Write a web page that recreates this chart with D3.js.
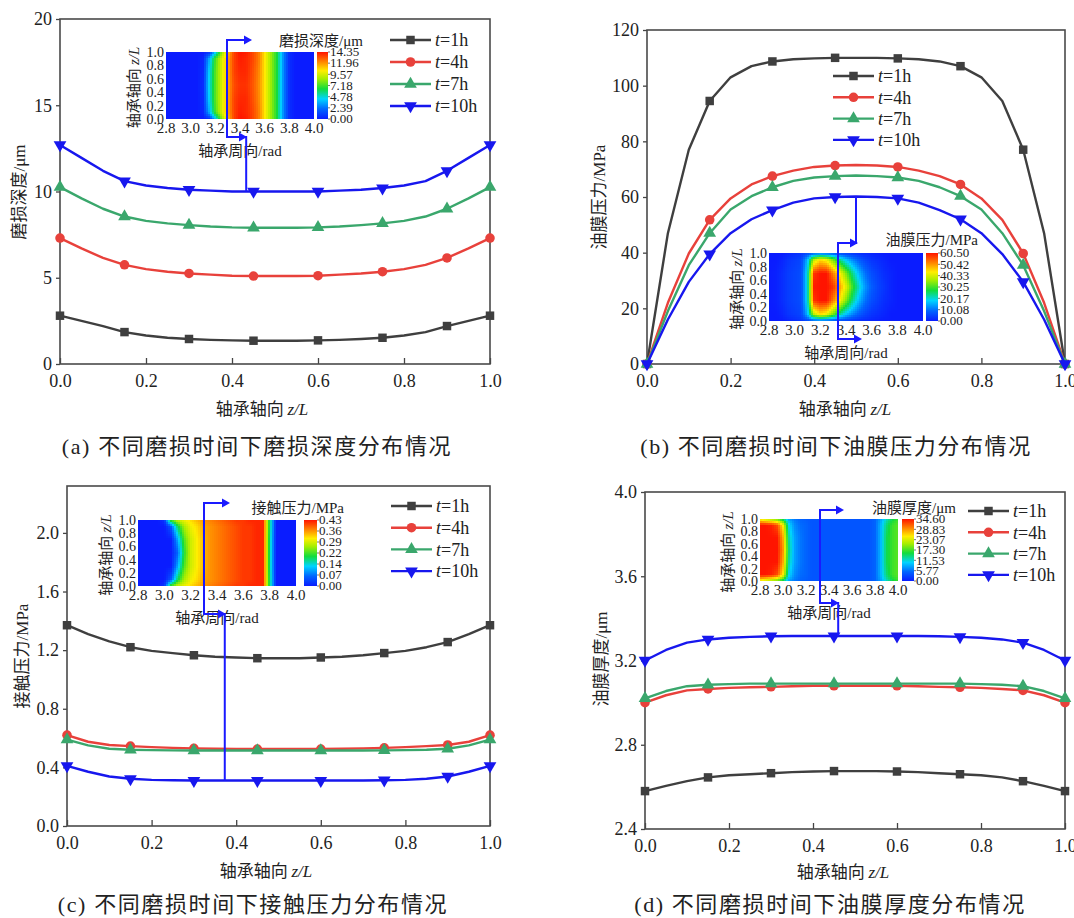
<!DOCTYPE html>
<html>
<head>
<meta charset="utf-8">
<script src="https://cdn.jsdelivr.net/npm/d3@7"></script>
<style>
body{margin:0;background:#fff;}
svg text{font-family:"Liberation Serif","Times New Roman",serif;fill:#222;}
</style>
</head>
<body>
<svg id="fig" width="1074" height="918"></svg>
<script>
//wear-time comparison of bearing: 4 panels, each with a contour inset

var cjkFont = '"Noto Sans CJK SC","Noto Sans",sans-serif';

//axial position z/L, markers on every 3rd point + last
var zL = [0,0.05,0.1,0.15,0.2,0.25,0.3,0.35,0.4,0.45,0.5,0.55,0.6,0.65,0.7,0.75,0.8,0.85,0.9,0.95,1.0];
var markerIdx = [0,3,6,9,12,15,18,20];
var xTickVals = [0,0.2,0.4,0.6,0.8,1.0];
var seriesLabels = ["1h","4h","7h","10h"];
var seriesColors = ["#3f3f3f","#e8413b","#3aa76c","#1717ee"];
var seriesSymbols = ["square","circle","triUp","triDown"];

//(a) wear depth, um
var wear1h  = [2.8,2.5,2.2,1.85,1.65,1.52,1.45,1.4,1.37,1.35,1.35,1.35,1.37,1.4,1.45,1.52,1.65,1.85,2.2,2.5,2.8];
var wear4h  = [7.3,6.7,6.15,5.75,5.5,5.35,5.25,5.18,5.12,5.1,5.1,5.1,5.12,5.18,5.25,5.35,5.5,5.75,6.15,6.7,7.3];
var wear7h  = [10.25,9.6,9.0,8.55,8.3,8.15,8.05,7.97,7.92,7.9,7.9,7.9,7.92,7.97,8.05,8.15,8.3,8.55,9.0,9.6,10.25];
var wear10h = [12.7,11.95,11.2,10.6,10.35,10.2,10.1,10.05,10.0,10.0,10.0,10.0,10.0,10.05,10.1,10.2,10.35,10.6,11.2,11.95,12.7];

//(b) oil film pressure, MPa
var press1h  = [0,47,77,94.5,103,107,108.7,109.5,109.8,110,110,110,109.8,109.5,108.7,107,103,94.5,77,47,0];
var press4h  = [0,22,39.7,51.8,59.5,64.5,67.5,69.5,70.8,71.3,71.5,71.3,70.8,69.5,67.5,64.5,59.5,51.8,39.7,22,0];
var press7h  = [0,19,35.5,47,55.5,60.3,63.5,65.8,67,67.5,67.7,67.5,67,65.8,63.5,60.3,55.5,47,35.5,19,0];
var press10h = [0,16,29.5,39.5,47,52,55.3,58,59.5,60,60.2,60,59.5,58,55.3,52,47,39.5,29.5,16,0];

//(c) contact pressure, MPa
var contact1h  = [1.37,1.31,1.26,1.22,1.195,1.18,1.165,1.155,1.15,1.145,1.145,1.145,1.15,1.155,1.165,1.18,1.195,1.22,1.255,1.31,1.37];
var contact4h  = [0.62,0.575,0.553,0.545,0.538,0.533,0.53,0.527,0.525,0.525,0.525,0.525,0.525,0.527,0.53,0.533,0.538,0.545,0.553,0.575,0.62];
var contact7h  = [0.59,0.55,0.527,0.52,0.518,0.516,0.515,0.515,0.515,0.515,0.515,0.515,0.515,0.515,0.515,0.516,0.518,0.52,0.527,0.55,0.59];
var contact10h = [0.41,0.37,0.338,0.322,0.315,0.312,0.31,0.31,0.31,0.31,0.31,0.31,0.31,0.31,0.31,0.312,0.315,0.322,0.338,0.37,0.41];

//(d) oil film thickness, um
var film1h  = [2.58,2.605,2.627,2.645,2.655,2.66,2.665,2.67,2.673,2.675,2.675,2.675,2.673,2.67,2.665,2.66,2.655,2.645,2.627,2.605,2.58];
var film4h  = [3.0,3.035,3.058,3.065,3.07,3.073,3.075,3.078,3.08,3.08,3.08,3.08,3.08,3.078,3.075,3.073,3.07,3.065,3.058,3.035,3.0];
var film7h  = [3.02,3.055,3.078,3.085,3.088,3.09,3.09,3.09,3.09,3.09,3.09,3.09,3.09,3.09,3.09,3.09,3.088,3.085,3.078,3.055,3.02];
var film10h = [3.2,3.25,3.285,3.3,3.308,3.312,3.315,3.316,3.316,3.316,3.316,3.316,3.316,3.316,3.315,3.312,3.308,3.3,3.285,3.25,3.2];

//inset contour grids: circumferential angle (rad) x axial rows
var insetTheta = [2.8,2.85,2.9,2.95,3.0,3.05,3.1,3.15,3.2,3.25,3.3,3.35,3.4,3.45,3.5,3.55,3.6,3.65,3.7,3.75,3.8,3.85,3.9,3.95,4.0];
var insetZ = [0,0.1,0.3,0.5,0.7,0.9,1.0];
var insetXTicks = [2.8,3.0,3.2,3.4,3.6,3.8,4.0];
var insetYTicks = [0,0.2,0.4,0.6,0.8,1.0];

var wearMapEdge   = [0,0,0,0,0,0,0,0.5,4,8,11,13.5,14.35,14.2,13.5,12.5,10.5,8.5,6.5,3,0.5,0,0,0,0];
var wearMapNear   = [0,0,0,0,0,0,0.3,3.5,7.2,9.5,11.5,13.5,14.2,14,13.5,12.5,10.5,8.5,6.5,3,0.5,0,0,0,0];
var wearMapMid    = [0,0,0,0,0,0,0.4,4.3,7.5,9.5,11.5,13.5,14,14,13.3,12.3,10.5,8.5,6.5,3,0.5,0,0,0,0];
var wearMapCenter = [0,0,0,0,0,0,0.5,4.5,7.5,9.5,11.5,13.3,13.8,13.8,13.2,12.2,10.5,8.5,6.5,3,0.5,0,0,0,0];

var pressMapEdge   = [0,0,0,1,2,3,5,7,8,7,6,5,4,3,2,1.5,1,0.5,0,0,0,0,0,0,0];
var pressMapNear   = [0,0,1,3,4,5,16,38,45,42,33,24,17,12,8,5,3,2,1,0,0,0,0,0,0];
var pressMapMid    = [0,0.5,2,4,5,6,20,58,60.5,60.5,52,44,34,24,16,10,6,4,2,1,0,0,0,0,0];
var pressMapCenter = [0,0.5,2,4,5,6,20,60,60.5,60.5,58,50,41,30,21,13,8,5,3,1,0,0,0,0,0];

var contactMapEdge   = [0,0,0,0,0.02,0.22,0.28,0.3,0.32,0.34,0.36,0.37,0.38,0.39,0.4,0.41,0.41,0.42,0.42,0.42,0.18,0,0,0,0];
var contactMapNear   = [0,0,0,0,0,0.05,0.18,0.26,0.3,0.32,0.35,0.36,0.37,0.38,0.39,0.4,0.41,0.41,0.42,0.42,0.18,0,0,0,0];
var contactMapMid    = [0,0,0,0,0,0,0.1,0.22,0.28,0.31,0.34,0.36,0.37,0.38,0.39,0.4,0.41,0.41,0.42,0.42,0.17,0,0,0,0];
var contactMapCenter = [0,0,0,0,0,0,0.06,0.2,0.28,0.31,0.34,0.36,0.37,0.38,0.39,0.4,0.41,0.41,0.42,0.42,0.17,0,0,0,0];

var filmMapEdge   = [24,22,20,18,14,8,6,5,4.5,4,4,4,4,4,4,4,4,4,4,4,5,8,12,15,17];
var filmMapNear   = [34.6,34.6,34,32,25,11,7,5.5,5,4,4,4,4,4,4,4,4,4,4,4,5,9,14,17,18];
var filmMapMid    = [34.6,34.6,34.6,34.5,28,13,8,6,5,4,4,4,4,4,4,4,4,4,4,4,5,9,15,17,18];
var filmMapCenter = [34.6,34.6,34.6,34.6,29,14,8,6,5,4,4,4,4,4,4,4,4,4,4,4,5,9,15,17,18];

//colour bar labels
var wearBar    = ["0.00","2.39","4.78","7.18","9.57","11.96","14.35"];
var pressBar   = ["0.00","10.08","20.17","30.25","40.33","50.42","60.50"];
var contactBar = ["0.00","0.07","0.14","0.22","0.29","0.36","0.43"];
var filmBar    = ["0.00","5.77","11.53","17.30","23.07","28.83","34.60"];

//rainbow colour map
var cmapStops  = [0,0.15,0.3,0.45,0.6,0.72,0.86,1];
var cmapColors = ["#0a1cff","#0066ff","#00d4ff","#12dc3c","#a6ee00","#ffee00","#ff8000","#ff1400"];
var cmap = d3.scaleLinear().domain(cmapStops).range(cmapColors).clamp(true);

var panels = [
  {x0:60, x1:490, y0:19, y1:364, yDom:[0,20], yTicks:[0,5,10,15,20], yFmt:"d",
   series:[wear1h,wear4h,wear7h,wear10h],
   yTitle:[["磨损深度","cjk"],["/μm",""]], yTitleX:19, yTitleY:192,
   xTitleX:262, xTitleY:415, capTag:"(a)", caption:"不同磨损时间下磨损深度分布情况", capX:257, capY:454,
   legend:{x:390, y:40, dy:22},
   conn:{z:0.433, v:10.0, pts:[[246,137],[227,137],[227,40],[246,40]]},
   inset:{x0:166, x1:314, y0:52, y1:119, cb0:317, cb1:328, max:14.35, bar:wearBar,
          title:[["磨损深度","cjk"],["/μm",""]], titleX:363, titleY:46,
          rows:[wearMapEdge,wearMapNear,wearMapMid,wearMapCenter,wearMapMid,wearMapNear,wearMapEdge]}},
  {x0:647, x1:1065, y0:30, y1:364, yDom:[0,120], yTicks:[0,20,40,60,80,100,120], yFmt:"d",
   series:[press1h,press4h,press7h,press10h],
   yTitle:[["油膜压力","cjk"],["/MPa",""]], yTitleX:599, yTitleY:197,
   xTitleX:845, xTitleY:415, capTag:"(b)", caption:"不同磨损时间下油膜压力分布情况", capX:836, capY:454,
   legend:{x:833, y:76, dy:21.3},
   conn:{z:0.5, v:60.2, pts:[[857,243],[838,243],[838,339],[856,339]]},
   inset:{x0:769, x1:923, y0:253, y1:321, cb0:926, cb1:938, max:60.5, bar:pressBar,
          title:[["油膜压力","cjk"],["/MPa",""]], titleX:978, titleY:245,
          rows:[pressMapEdge,pressMapNear,pressMapMid,pressMapCenter,pressMapMid,pressMapNear,pressMapEdge]}},
  {x0:67, x1:490, y0:486, y1:826, yDom:[0,2.32], yTicks:[0,0.4,0.8,1.2,1.6,2.0], yFmt:".1f",
   series:[contact1h,contact4h,contact7h,contact10h],
   yTitle:[["接触压力","cjk"],["/MPa",""]], yTitleX:22, yTitleY:656,
   xTitleX:266, xTitleY:877, capTag:"(c)", caption:"不同磨损时间下接触压力分布情况", capX:253, capY:912,
   legend:{x:391, y:506, dy:21.7},
   conn:{z:0.373, v:0.31, pts:[[225,614],[204,614],[204,503],[224,503]]},
   inset:{x0:138, x1:296, y0:520, y1:586, cb0:304, cb1:317, max:0.43, bar:contactBar,
          title:[["接触压力","cjk"],["/MPa",""]], titleX:344, titleY:513,
          rows:[contactMapEdge,contactMapNear,contactMapMid,contactMapCenter,contactMapMid,contactMapNear,contactMapEdge]}},
  {x0:645, x1:1065, y0:492, y1:829, yDom:[2.4,4.0], yTicks:[2.4,2.8,3.2,3.6,4.0], yFmt:".1f",
   series:[film1h,film4h,film7h,film10h],
   yTitle:[["油膜厚度","cjk"],["/μm",""]], yTitleX:601, yTitleY:659,
   xTitleX:843, xTitleY:878, capTag:"(d)", caption:"不同磨损时间下油膜厚度分布情况", capX:830, capY:912,
   legend:{x:968, y:511, dy:21.3},
   conn:{z:0.46, v:3.316, pts:[[838,603],[820,603],[820,510],[838,510]]},
   inset:{x0:760, x1:898, y0:519, y1:581, cb0:902, cb1:914, max:34.6, bar:filmBar,
          title:[["油膜厚度","cjk"],["/μm",""]], titleX:956, titleY:513,
          rows:[filmMapEdge,filmMapNear,filmMapMid,filmMapCenter,filmMapMid,filmMapNear,filmMapEdge]}}
];

var svg = d3.select("#fig");

//gradient for colour bars
var grad = svg.append("defs").append("linearGradient")
  .attr("id","cbar").attr("x1",0).attr("y1",1).attr("x2",0).attr("y2",0);
cmapStops.forEach(function(s,i){
  grad.append("stop").attr("offset",s).attr("stop-color",cmapColors[i]);
});

function addParts(t, parts){
  parts.forEach(function(p){
    var s = t.append("tspan").text(p[0]);
    if (p[1] === "cjk") s.attr("font-family", cjkFont);
    if (p[1] === "it") s.attr("font-style","italic");
  });
  return t;
}

function symbolPath(kind){
  if (kind === "square") return d3.symbol(d3.symbolSquare, 72)();
  if (kind === "circle") return d3.symbol(d3.symbolCircle, 72)();
  return d3.symbol(d3.symbolTriangle, 70)();
}

function drawSymbol(g, kind, x, y, color){
  var rot = kind === "triDown" ? " rotate(180)" : "";
  g.append("path").attr("d", symbolPath(kind))
    .attr("transform","translate("+x+","+y+")"+rot)
    .attr("fill", color);
}

function sampleGrid(grid, th, z){
  var i = Math.max(0, Math.min(insetTheta.length-2, d3.bisectRight(insetTheta, th)-1));
  var j = Math.max(0, Math.min(insetZ.length-2, d3.bisectRight(insetZ, z)-1));
  var tx = Math.max(0, Math.min(1, (th-insetTheta[i])/(insetTheta[i+1]-insetTheta[i])));
  var tz = Math.max(0, Math.min(1, (z-insetZ[j])/(insetZ[j+1]-insetZ[j])));
  return (1-tx)*(1-tz)*grid[j][i] + tx*(1-tz)*grid[j][i+1] + (1-tx)*tz*grid[j+1][i] + tx*tz*grid[j+1][i+1];
}

function arrowHead(g, x, y){
  g.append("path").attr("d","M"+(x-8)+","+(y-4.5)+"L"+x+","+y+"L"+(x-8)+","+(y+4.5)+"Z")
    .attr("fill","#1a1aff");
}

function drawInset(g, ins){
  var x = d3.scaleLinear().domain([2.8,4.0]).range([ins.x0, ins.x1]);
  var y = d3.scaleLinear().domain([0,1]).range([ins.y1, ins.y0]);
  var cells = [];
  for (var px = ins.x0; px < ins.x1; px += 2){
    for (var py = ins.y0; py < ins.y1; py += 2){
      cells.push({px:px, py:py, v:sampleGrid(ins.rows, x.invert(px+1), y.invert(py+1))});
    }
  }
  g.append("g").selectAll("rect").data(cells).enter().append("rect")
    .attr("x", function(d){ return d.px; })
    .attr("y", function(d){ return d.py; })
    .attr("width", function(d){ return Math.min(2.3, ins.x1-d.px); })
    .attr("height", function(d){ return Math.min(2.3, ins.y1-d.py); })
    .attr("fill", function(d){ return cmap(d.v/ins.max); });

  //inset tick labels
  g.selectAll(null).data(insetXTicks).enter().append("text")
    .attr("x", function(d){ return x(d); }).attr("y", ins.y1+14)
    .attr("text-anchor","middle").attr("font-size",15)
    .text(function(d){ return d.toFixed(1); });
  g.selectAll(null).data(insetYTicks).enter().append("text")
    .attr("x", ins.x0-2).attr("y", function(d){ return y(d); })
    .attr("dy","0.35em").attr("text-anchor","end").attr("font-size",14)
    .text(function(d){ return d.toFixed(1); });

  addParts(g.append("text").attr("x",(ins.x0+ins.x1)/2).attr("y",ins.y1+37)
    .attr("text-anchor","middle").attr("font-size",15),
    [["轴承周向","cjk"],["/rad",""]]);
  addParts(g.append("text")
    .attr("transform","translate("+(ins.x0-32)+","+((ins.y0+ins.y1)/2+2)+") rotate(-90)")
    .attr("text-anchor","middle").attr("dy","0.35em").attr("font-size",15),
    [["轴承轴向 ","cjk"],["z/L","it"]]);

  //colour bar
  g.append("rect").attr("x",ins.cb0).attr("y",ins.y0)
    .attr("width",ins.cb1-ins.cb0).attr("height",ins.y1-ins.y0)
    .attr("fill","url(#cbar)");
  var cb = d3.scaleLinear().domain([0, ins.bar.length-1]).range([ins.y1, ins.y0]);
  g.selectAll(null).data(ins.bar).enter().append("line")
    .attr("x1",ins.cb1).attr("x2",ins.cb1+2)
    .attr("y1",function(d,i){ return cb(i); }).attr("y2",function(d,i){ return cb(i); })
    .attr("stroke","#555").attr("stroke-width",0.8);
  g.selectAll(null).data(ins.bar).enter().append("text")
    .attr("x",ins.cb1+2).attr("y",function(d,i){ return cb(i); })
    .attr("dy","0.33em").attr("font-size",13)
    .text(function(d){ return d; });

  addParts(g.append("text").attr("x",ins.titleX).attr("y",ins.titleY)
    .attr("text-anchor","end").attr("font-size",15), ins.title);
}

panels.forEach(function(p){
  var g = svg.append("g");
  var x = d3.scaleLinear().domain([0,1]).range([p.x0,p.x1]);
  var y = d3.scaleLinear().domain(p.yDom).range([p.y1,p.y0]);

  //axes
  var xa = g.append("g").attr("transform","translate(0,"+p.y1+")")
    .call(d3.axisBottom(x).tickValues(xTickVals).tickFormat(d3.format(".1f"))
      .tickSizeInner(-6).tickSizeOuter(0).tickPadding(10));
  var ya = g.append("g").attr("transform","translate("+p.x0+",0)")
    .call(d3.axisLeft(y).tickValues(p.yTicks).tickFormat(d3.format(p.yFmt))
      .tickSizeInner(4).tickSizeOuter(0).tickPadding(4));
  [xa, ya].forEach(function(a){
    a.select(".domain").remove();
    a.selectAll("line").attr("stroke","#444").attr("stroke-width",1.3);
    a.selectAll("text").attr("font-size",18).attr("fill","#222")
      .attr("font-family",'"Liberation Serif",serif');
  });

  g.append("rect").attr("x",p.x0).attr("y",p.y0)
    .attr("width",p.x1-p.x0).attr("height",p.y1-p.y0)
    .attr("fill","none").attr("stroke","#4a4a4a").attr("stroke-width",1.6);

  //curves
  var line = d3.line().x(function(d,i){ return x(zL[i]); }).y(function(d){ return y(d); });
  p.series.forEach(function(s,k){
    g.append("path").datum(s).attr("d",line).attr("fill","none")
      .attr("stroke",seriesColors[k]).attr("stroke-width",2.4).attr("stroke-linejoin","round");
    markerIdx.forEach(function(i){
      drawSymbol(g, seriesSymbols[k], x(zL[i]), y(s[i]), seriesColors[k]);
    });
  });

  //legend
  seriesLabels.forEach(function(lab,k){
    var ly = p.legend.y + k*p.legend.dy;
    g.append("line").attr("x1",p.legend.x).attr("x2",p.legend.x+41)
      .attr("y1",ly).attr("y2",ly).attr("stroke",seriesColors[k]).attr("stroke-width",2.4);
    drawSymbol(g, seriesSymbols[k], p.legend.x+20.5, ly, seriesColors[k]);
    addParts(g.append("text").attr("x",p.legend.x+45).attr("y",ly).attr("dy","0.35em")
      .attr("font-size",18), [["t","it"],["="+lab,""]]);
  });

  //titles
  addParts(g.append("text").attr("x",p.xTitleX).attr("y",p.xTitleY)
    .attr("text-anchor","middle").attr("font-size",17), [["轴承轴向 ","cjk"],["z/L","it"]]);
  addParts(g.append("text")
    .attr("transform","translate("+p.yTitleX+","+p.yTitleY+") rotate(-90)")
    .attr("text-anchor","middle").attr("dy","0.35em").attr("font-size",17), p.yTitle);
  var cap = g.append("text").attr("x",p.capX).attr("y",p.capY).attr("text-anchor","middle")
    .attr("font-size",22).attr("letter-spacing",1.6);
  cap.append("tspan").text(p.capTag + " ");
  cap.append("tspan").attr("font-family",cjkFont).text(p.caption);

  drawInset(g.append("g"), p.inset);

  //call-out connector from the t=10h curve to the inset
  var start = [x(p.conn.z), y(p.conn.v)];
  var pts = [start, [start[0], p.conn.pts[0][1]]].concat(p.conn.pts.slice(1));
  g.append("path").attr("d", d3.line()(pts)).attr("fill","none")
    .attr("stroke","#1a1aff").attr("stroke-width",2);
  arrowHead(g, p.conn.pts[0][0]+1, p.conn.pts[0][1]);
  var last = p.conn.pts[p.conn.pts.length-1];
  arrowHead(g, last[0]+6, last[1]);
});
</script>
</body>
</html>
